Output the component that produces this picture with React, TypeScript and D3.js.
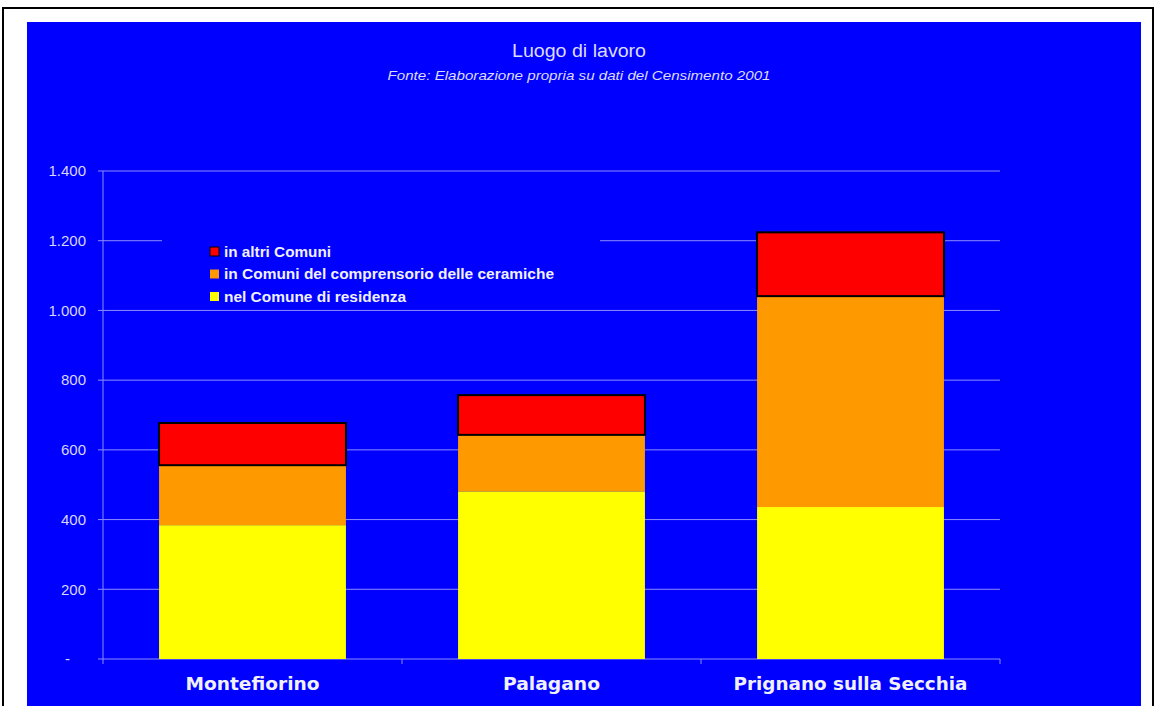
import React from "react";
import * as d3 from "d3";

const categories = ["Montefiorino", "Palagano", "Prignano sulla Secchia"];
const nelComune = [384, 481, 436];
const comprensorio = [172, 162, 605];
const altriComuni = [121, 114, 183];
const yTicks = [0, 200, 400, 600, 800, 1000, 1200, 1400];

const seriesNames = [
  "nel Comune di residenza",
  "in Comuni del comprensorio delle ceramiche",
  "in altri Comuni",
];
const seriesColors = ["#ffff00", "#ff9900", "#ff0000"];
const legendOrder = [2, 1, 0];

const W = 1158;
const H = 706;
const FONT = "'Liberation Sans', Arial, sans-serif";
const CAT_FONT = "'DejaVu Sans Condensed', 'DejaVu Sans', sans-serif";

// measured widths of the texts in the picture
const catLabelWidths = [134, 97, 234];
const legendWidths = [182, 330, 107];

export default function App() {
  const x = d3
    .scaleBand<string>()
    .domain(categories)
    .range([103, 1000])
    .paddingInner(0.375)
    .paddingOuter(0.1875);
  const y = d3.scaleLinear().domain([0, 1400]).range([659, 171]);
  const loc = d3.formatLocale({ decimal: ",", thousands: ".", grouping: [3], currency: ["", "€"] });
  const fmt = loc.format(",");

  const rows = categories.map((c, i) => ({
    cat: c,
    s0: nelComune[i],
    s1: comprensorio[i],
    s2: altriComuni[i],
  }));
  const stack = d3.stack<any>().keys(["s0", "s1", "s2"]);
  const stacked = stack(rows);

  const step = x.step();
  const plotLeft = 103;
  const plotRight = 1000;
  const gridColor = "#8c8cff";

  return (
    <svg
      width={W}
      height={H}
      style={{ position: "absolute", left: 0, top: 0, background: "#fff" }}
      fontFamily={FONT}
    >
      <rect x={3} y={8} width={1150} height={720} fill="#fff" stroke="#000" strokeWidth={2} />
      <rect x={27} y={22} width={1114} height={700} fill="#0000ff" />

      <text
        x={579}
        y={57}
        textAnchor="middle"
        fill="#dcdcff"
        fontSize={18}
        textLength={134}
        lengthAdjust="spacingAndGlyphs"
      >
        Luogo di lavoro
      </text>
      <text
        x={579}
        y={80}
        textAnchor="middle"
        fill="#dcdcff"
        fontSize={13}
        fontStyle="italic"
        textLength={383}
        lengthAdjust="spacingAndGlyphs"
      >
        Fonte: Elaborazione propria su dati del Censimento 2001
      </text>

      {/* gridlines */}
      {yTicks.map((t) =>
        t === 0 ? null : (
          <line
            key={"g" + t}
            x1={plotLeft}
            x2={plotRight}
            y1={y(t)}
            y2={y(t)}
            stroke={gridColor}
            strokeWidth={1}
          />
        )
      )}

      {/* legend box (covers gridline) */}
      <rect x={162} y={234} width={438} height={72} fill="#0000ff" />

      {/* axes */}
      <line x1={plotLeft} x2={plotLeft} y1={171} y2={664} stroke={gridColor} strokeWidth={1} />
      <line x1={plotLeft} x2={plotRight} y1={y(0)} y2={y(0)} stroke={gridColor} strokeWidth={1} />
      {yTicks.map((t) => (
        <g key={"t" + t}>
          <line x1={98} x2={plotLeft} y1={y(t)} y2={y(t)} stroke={gridColor} />
          <text
            x={t === 0 ? 70 : 86}
            y={y(t)}
            dy="0.35em"
            textAnchor="end"
            fill="#d6d6ff"
            fontSize={15}
          >
            {t === 0 ? "-" : fmt(t)}
          </text>
        </g>
      ))}
      {categories.map((c, i) => (
        <line
          key={"ct" + c}
          x1={plotLeft + step * (i + 1)}
          x2={plotLeft + step * (i + 1)}
          y1={y(0)}
          y2={664}
          stroke={gridColor}
        />
      ))}

      {/* bars */}
      {stacked.map((layer, li) =>
        layer.map((d, i) => (
          <rect
            key={li + "-" + i}
            x={x(categories[i])}
            width={x.bandwidth()}
            y={y(d[1])}
            height={y(d[0]) - y(d[1])}
            fill={seriesColors[li]}
            stroke={li === 2 ? "#000" : "none"}
            strokeWidth={li === 2 ? 2 : 0}
          />
        ))
      )}

      {/* category labels */}
      {categories.map((c, i) => (
        <text
          key={"l" + c}
          x={(x(c) as number) + x.bandwidth() / 2}
          y={690}
          textAnchor="middle"
          fill="#f0f0ff"
          fontSize={17}
          fontWeight="bold"
          fontFamily={CAT_FONT}
          textLength={catLabelWidths[i]}
          lengthAdjust="spacingAndGlyphs"
        >
          {c}
        </text>
      ))}

      {/* legend */}
      {legendOrder.map((si, k) => (
        <g key={"lg" + si} transform={`translate(210, ${252 + k * 22.5})`}>
          <rect
            x={0}
            y={-5}
            width={9}
            height={9}
            fill={seriesColors[si]}
            stroke={si === 2 ? "#000" : "none"}
            strokeWidth={1}
          />
          <text
            x={14}
            y={0}
            dy="0.35em"
            fill="#f0f0ff"
            fontSize={14}
            fontWeight="bold"
            textLength={legendWidths[si]}
            lengthAdjust="spacingAndGlyphs"
          >
            {seriesNames[si]}
          </text>
        </g>
      ))}
    </svg>
  );
}
